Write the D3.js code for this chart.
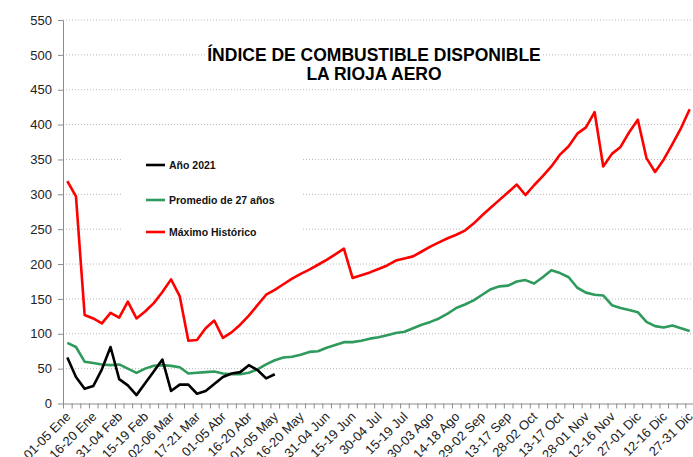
<!DOCTYPE html>
<html lang="es">
<head>
<meta charset="UTF-8">
<title>Índice de combustible disponible</title>
<script src="https://d3js.org/d3.v7.min.js"></script>
<style>
  body { margin: 0; background: #fff; }
  svg { display: block; font-family: "Liberation Sans", Arial, sans-serif; }
</style>
</head>
<body>
<div id="chart"></div>
<script>
// pentadas del año
const categories = [
  "01-05 Ene", "06-10 Ene", "11-15 Ene", "16-20 Ene", "21-25 Ene", "26-30 Ene",
  "31-04 Feb", "05-09 Feb", "10-14 Feb", "15-19 Feb", "20-24 Feb", "25-01 Mar",
  "02-06 Mar", "07-11 Mar", "12-16 Mar", "17-21 Mar", "22-26 Mar", "27-31 Mar",
  "01-05 Abr", "06-10 Abr", "11-15 Abr", "16-20 Abr", "21-25 Abr", "26-30 Abr",
  "01-05 May", "06-10 May", "11-15 May", "16-20 May", "21-25 May", "26-30 May",
  "31-04 Jun", "05-09 Jun", "10-14 Jun", "15-19 Jun", "20-24 Jun", "25-29 Jun",
  "30-04 Jul", "05-09 Jul", "10-14 Jul", "15-19 Jul", "20-24 Jul", "25-29 Jul",
  "30-03 Ago", "04-08 Ago", "09-13 Ago", "14-18 Ago", "19-23 Ago", "24-28 Ago",
  "29-02 Sep", "03-07 Sep", "08-12 Sep", "13-17 Sep", "18-22 Sep", "23-27 Sep",
  "28-02 Oct", "03-07 Oct", "08-12 Oct", "13-17 Oct", "18-22 Oct", "23-27 Oct",
  "28-01 Nov", "02-06 Nov", "07-11 Nov", "12-16 Nov", "17-21 Nov", "22-26 Nov",
  "27-01 Dic", "02-06 Dic", "07-11 Dic", "12-16 Dic", "17-21 Dic", "22-26 Dic",
  "27-31 Dic"
];

const yTicks = [0, 50, 100, 150, 200, 250, 300, 350, 400, 450, 500, 550];

const anio2021 = [
  66, 38, 21, 25, 49, 81, 35, 26, 12, 29, 46, 63,
  18, 27, 27, 14, 18, 28, 38, 43, 45, 55, 48, 36, 42
];

const promedio = [
  87, 81, 60, 58, 56, 55, 56, 50, 44, 50, 54, 55,
  54, 52, 43, 44, 45, 46, 43, 42, 42, 44, 49, 56,
  62, 66, 67, 70, 74, 75, 80, 84, 88, 88, 90, 93,
  95, 98, 101, 103, 108, 113, 117, 122, 129, 137, 142, 148,
  156, 164, 168, 169, 175, 177, 172, 181, 191, 187, 181, 166,
  159, 156, 155, 141, 137, 134, 131, 117, 111, 109, 112, 108,
  104
];

const maximo = [
  319, 297, 127, 122, 115, 130, 123, 146, 122, 132, 144, 160,
  178, 154, 90, 91, 108, 119, 94, 102, 113, 126, 141, 156,
  163, 171, 179, 186, 192, 199, 206, 214, 222, 180, 184, 188,
  193, 198, 205, 208, 211, 218, 225, 231, 237, 242, 248, 258,
  270, 281, 292, 303, 314, 299, 313, 326, 340, 357, 369, 387,
  396, 418, 340, 358, 368, 389, 407, 352, 332, 350, 372, 395,
  422
];

const seriesNames = ["Año 2021", "Promedio de 27 años", "Máximo Histórico"];
const seriesColors = ["#000000", "#2e9a5c", "#ff0000"];
const titleLines = ["ÍNDICE DE COMBUSTIBLE DISPONIBLE", "LA RIOJA AERO"];

const width = 693, height = 457;
const plotLeft = 63, plotRight = 694, plotTop = 20, plotBottom = 403.5;

const svg = d3.select("#chart").append("svg")
  .attr("width", width)
  .attr("height", height);

const x = d3.scaleBand().domain(categories).range([plotLeft, plotRight]).padding(0);
const xTicks = d3.scaleLinear().domain([0, categories.length]).range([plotLeft, plotRight]);
const y = d3.scaleLinear().domain([0, 550]).range([plotBottom, plotTop]);
const cx = d => x(d) + x.bandwidth() / 2;

// grid
svg.append("g")
  .selectAll("line")
  .data(yTicks.filter(t => t > 0))
  .join("line")
  .attr("x1", plotLeft)
  .attr("x2", width)
  .attr("y1", d => y(d))
  .attr("y2", d => y(d))
  .attr("stroke", "#b8b8b8")
  .attr("stroke-width", 1)
  .attr("stroke-dasharray", "1,2");

// title and legend sit on white boxes over the grid
svg.append("rect").attr("x", 207).attr("y", 42).attr("width", 336).attr("height", 44).attr("fill", "#fff");
svg.append("rect").attr("x", 121).attr("y", 140).attr("width", 182).attr("height", 108).attr("fill", "#fff");

// y axis
const yAxis = svg.append("g")
  .attr("transform", `translate(${plotLeft},0)`)
  .call(d3.axisLeft(y).tickValues(yTicks).tickSize(5).tickPadding(6).tickSizeOuter(0));
yAxis.select(".domain").attr("stroke", "#8c8c8c");
yAxis.selectAll(".tick line").attr("stroke", "#8c8c8c");
yAxis.selectAll("text").attr("font-size", 13).attr("fill", "#222")
  .attr("font-family", "'Liberation Sans', Arial, sans-serif");

// x axis: ticks at band edges
const xAxis = svg.append("g")
  .attr("transform", `translate(0,${plotBottom})`)
  .call(d3.axisBottom(xTicks).tickValues(d3.range(0, categories.length + 1))
    .tickSize(5).tickFormat("").tickSizeOuter(0));
xAxis.select(".domain").attr("stroke", "#8c8c8c");
xAxis.selectAll(".tick line").attr("stroke", "#8c8c8c");

svg.append("g")
  .selectAll("text")
  .data(categories.filter((c, i) => i % 3 === 0))
  .join("text")
  .attr("transform", d => `translate(${cx(d) + 4},${plotBottom + 14}) rotate(-45)`)
  .attr("text-anchor", "end")
  .attr("font-size", 13)
  .attr("fill", "#222")
  .text(d => d);

// series
const line = d3.line()
  .x((d, i) => cx(categories[i]))
  .y(d => y(d));

const seriesData = [anio2021, promedio, maximo];
const drawOrder = [1, 2, 0];
drawOrder.forEach(k => {
  svg.append("path")
    .datum(seriesData[k])
    .attr("fill", "none")
    .attr("stroke", seriesColors[k])
    .attr("stroke-width", 2.6)
    .attr("stroke-linejoin", "round")
    .attr("d", line);
});

// title
svg.append("text")
  .attr("x", 374)
  .attr("y", 61)
  .attr("text-anchor", "middle")
  .attr("font-size", 17.5)
  .attr("font-weight", "bold")
  .attr("fill", "#000")
  .selectAll("tspan")
  .data(titleLines)
  .join("tspan")
  .attr("x", 374)
  .attr("dy", (d, i) => i === 0 ? 0 : 19)
  .text(d => d);

// legend
const legendY = [165, 200, 232];
const legend = svg.append("g")
  .selectAll("g")
  .data(seriesNames)
  .join("g")
  .attr("transform", (d, i) => `translate(146,${legendY[i]})`);
legend.append("line")
  .attr("x1", 0).attr("x2", 19)
  .attr("stroke", (d, i) => seriesColors[i])
  .attr("stroke-width", 2.6);
legend.append("text")
  .attr("x", 23)
  .attr("dy", "0.35em")
  .attr("font-size", 10.5)
  .attr("font-weight", "bold")
  .attr("fill", "#111")
  .text(d => d);
</script>
</body>
</html>
